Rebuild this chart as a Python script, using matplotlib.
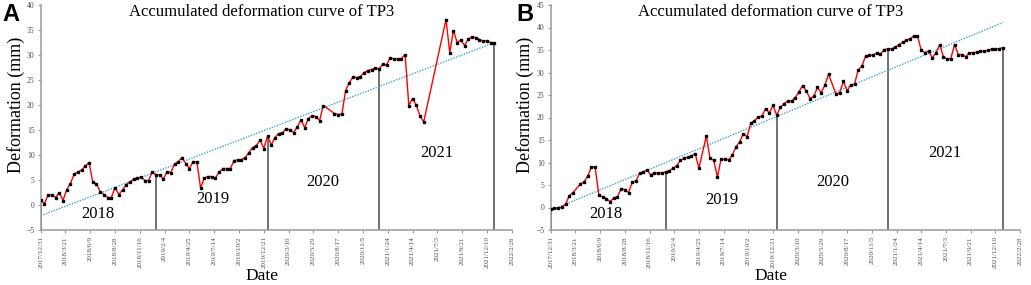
import numpy as np
import pandas as pd
import matplotlib
matplotlib.use("Agg")
import matplotlib.pyplot as plt

# acquisition days since 2017/12/31 (12-day revisit, with missing scenes)
days_a = [0, 12, 24, 36, 48, 60, 72, 84, 96, 108, 120, 132, 144, 156, 168, 180, 192, 204,
          216, 228, 240, 252, 264, 276, 288, 300, 312, 324, 336, 348, 360, 372, 384, 396,
          408, 420, 432, 444, 456, 468, 480, 492, 504, 516, 528, 540, 552, 564, 576, 588,
          600, 612, 624, 636, 648, 660, 672, 684, 696, 708, 720, 732, 744, 756, 768, 780,
          792, 804, 816, 828, 840, 852, 864, 876, 888, 900, 912,
          948, 960, 972, 984, 996, 1008, 1020, 1032, 1044, 1056, 1068, 1080, 1092, 1104,
          1116, 1128, 1140, 1152, 1164, 1176, 1188, 1200, 1212, 1224, 1236,
          1308, 1320, 1332, 1344, 1356, 1368, 1380, 1392, 1404, 1416, 1428, 1440, 1452, 1464]
defo_a = [1.0, 0.3, 2.0, 2.0, 1.5, 2.5, 0.9, 3.1, 4.3, 6.2, 6.6, 7.0, 7.8, 8.5, 4.6, 4.2, 2.7, 2.1,
          1.5, 1.5, 3.5, 2.1, 3.0, 4.1, 4.6, 5.2, 5.4, 5.6, 4.9, 4.9, 6.6, 6.0, 6.0, 5.2,
          6.7, 6.5, 8.2, 8.7, 9.5, 8.3, 7.3, 8.7, 8.6, 3.4, 5.4, 5.7, 5.7, 5.4, 6.6, 7.3,
          7.3, 7.3, 8.9, 9.0, 9.1, 9.5, 10.5, 11.5, 11.9, 13.0, 11.3, 13.8, 12.0, 13.5, 14.3, 14.4,
          15.3, 15.0, 14.5, 15.6, 17.0, 15.5, 17.3, 17.9, 17.7, 16.9, 19.9,
          18.3, 18.1, 18.2, 22.9, 24.5, 25.6, 25.5, 25.7, 26.5, 26.9, 27.1, 27.4, 27.2, 28.2,
          28.0, 29.5, 29.2, 29.2, 29.3, 30.1, 19.9, 21.3, 20.0, 17.8, 16.6,
          37.1, 30.5, 34.9, 32.5, 33.0, 31.9, 33.2, 33.6, 33.5, 33.1, 32.8, 32.9, 32.5, 32.4]

days_b = [0, 12, 24, 36, 48, 60, 72, 96, 108, 120, 132, 144, 156, 168, 180, 192, 204,
          216, 228, 240, 252, 264, 276, 288, 300, 312, 324, 336, 348, 360, 372, 384, 396,
          408, 420, 432, 444, 456, 468, 480, 504, 516, 528, 540, 552, 564, 576, 588,
          600, 612, 624, 636, 648, 660, 672, 684, 696, 708, 720, 732, 744, 756, 768, 780,
          792, 804, 816, 828, 840, 852, 864, 876, 888, 900, 924, 936,
          948, 960, 972, 984, 996, 1008, 1020, 1032, 1044, 1056, 1068, 1080, 1092, 1104,
          1116, 1128, 1140, 1152, 1164, 1176, 1188, 1200, 1212, 1224, 1236, 1248, 1260,
          1272, 1284, 1296, 1308, 1320, 1332, 1344, 1356, 1368, 1380, 1392, 1404, 1416,
          1428, 1440, 1452, 1464]
defo_b = [-0.3, -0.2, -0.2, 0.1, 0.7, 2.6, 3.3, 5.2, 5.7, 7.0, 9.0, 9.0, 2.7, 2.4, 2.0, 1.3, 2.1,
          2.4, 4.2, 4.0, 3.3, 5.6, 5.9, 7.6, 7.9, 8.4, 7.2, 7.7, 7.7, 7.6, 7.9, 8.2, 8.7,
          9.3, 10.5, 10.9, 11.2, 11.5, 12.0, 8.7, 15.9, 10.9, 10.5, 6.8, 10.8, 10.7, 10.6, 11.6,
          13.5, 14.6, 16.4, 15.7, 18.7, 19.3, 20.1, 20.3, 22.0, 21.0, 22.7, 20.5, 22.3, 23.1, 23.7, 23.7,
          24.4, 25.7, 27.1, 25.9, 24.2, 24.7, 26.7, 25.5, 27.2, 29.6, 25.2, 25.5,
          28.1, 25.9, 27.2, 27.4, 30.6, 31.4, 33.7, 33.8, 33.9, 34.3, 34.1, 35.1, 35.2, 35.3,
          35.6, 36.2, 36.7, 37.2, 37.5, 38.1, 38.1, 35.0, 34.4, 34.8, 33.2, 34.4, 36.2,
          33.5, 33.0, 33.1, 36.2, 34.0, 34.0, 33.5, 34.4, 34.4, 34.5, 34.7, 34.7, 34.9,
          35.2, 35.2, 35.3, 35.5]

# first acquisition of each year (and the last one)
boundary_days = [0, 372, 732, 1092, 1464]
years = ["2018", "2019", "2020", "2021"]
tick_labels = ["2017/12/31", "2018/3/21", "2018/6/9", "2018/8/28", "2018/11/16", "2019/2/4",
               "2019/4/25", "2019/7/14", "2019/10/2", "2019/12/21", "2020/3/10", "2020/5/29",
               "2020/8/17", "2020/11/5", "2021/1/24", "2021/4/14", "2021/7/3", "2021/9/21",
               "2021/12/10", "2022/2/28"]
tick_days = (pd.to_datetime(tick_labels, format="%Y/%m/%d") - pd.Timestamp("2017-12-31")).days

serif = "Liberation Serif"
axis_grey = "#9A9A9A"
text_grey = "#505050"


def draw_panel(ax, days, defo, ymax, year_pos):
    days = np.array(days)
    defo = np.array(defo)
    # year separators
    tops = np.interp(boundary_days, days, defo)
    ax.vlines(boundary_days, -5, tops, color="#707070", lw=1.4, zorder=2)
    # linear trend
    k, b = np.polyfit(days, defo, 1)
    ax.plot([days[0], days[-1]], [k * days[0] + b, k * days[-1] + b],
            color="#3FA0D8", ls=(0, (1, 1)), lw=1.0, zorder=3)
    ax.plot(days, defo, color="#FF0000", lw=1.0, marker="s", ms=1.8,
            mfc="black", mec="black", zorder=4)
    for yr, (x, y) in zip(years, year_pos):
        ax.text(x, y, yr, family=serif, fontsize=12, ha="center", va="center")
    ax.set_xlim(0, 1520)
    ax.set_ylim(-5, ymax)
    ax.set_yticks(np.arange(-5, ymax + 1, 5))
    ax.set_xticks(tick_days)
    ax.set_xticklabels(tick_labels, rotation=90)
    for lab in ax.get_xticklabels():
        lab.set_family(serif)
        lab.set_fontsize(5)
        lab.set_color(text_grey)
    for lab in ax.get_yticklabels():
        lab.set_family(serif)
        lab.set_fontsize(5.5)
        lab.set_color(text_grey)
    ax.tick_params(axis="both", length=2.5, width=0.8, color=axis_grey, pad=2)
    for s in ["top", "right"]:
        ax.spines[s].set_visible(False)
    for s in ["left", "bottom"]:
        ax.spines[s].set_color(axis_grey)
        ax.spines[s].set_linewidth(1.1)
    ax.text(0.469, 0.951, "Accumulated deformation curve of TP3", transform=ax.transAxes,
            family=serif, fontsize=12, ha="center", va="baseline")


fig = plt.figure(figsize=(10.31, 2.85), dpi=100)
axA = fig.add_axes([40.7 / 1031, 55 / 285, 471 / 1031, 225 / 285])
axB = fig.add_axes([550.7 / 1031, 55 / 285, 469.3 / 1031, 225 / 285])

draw_panel(axA, days_a, defo_a, 40, [(185, -1.8), (556, 1.2), (911, 4.6), (1278, 10.4)])
draw_panel(axB, days_b, defo_b, 45, [(179, -1.5), (554, 1.6), (913, 5.6), (1275, 12.1)])

for x, letter in [(2, "A"), (516, "B")]:
    fig.text(x / 1031, 1 - 3 / 285, letter, family="Liberation Sans", weight="bold",
             fontsize=17, ha="left", va="top")
for x in [16.5, 525]:
    fig.text(x / 1031, 1 - 105 / 285, "Deformation (mm)", family=serif, fontsize=13,
             rotation=90, ha="center", va="center")
for x in [262, 771]:
    fig.text(x / 1031, 1 - 280.5 / 285, "Date", family=serif, fontsize=12.5,
             ha="center", va="baseline")

fig.savefig("out.png", dpi=100)
